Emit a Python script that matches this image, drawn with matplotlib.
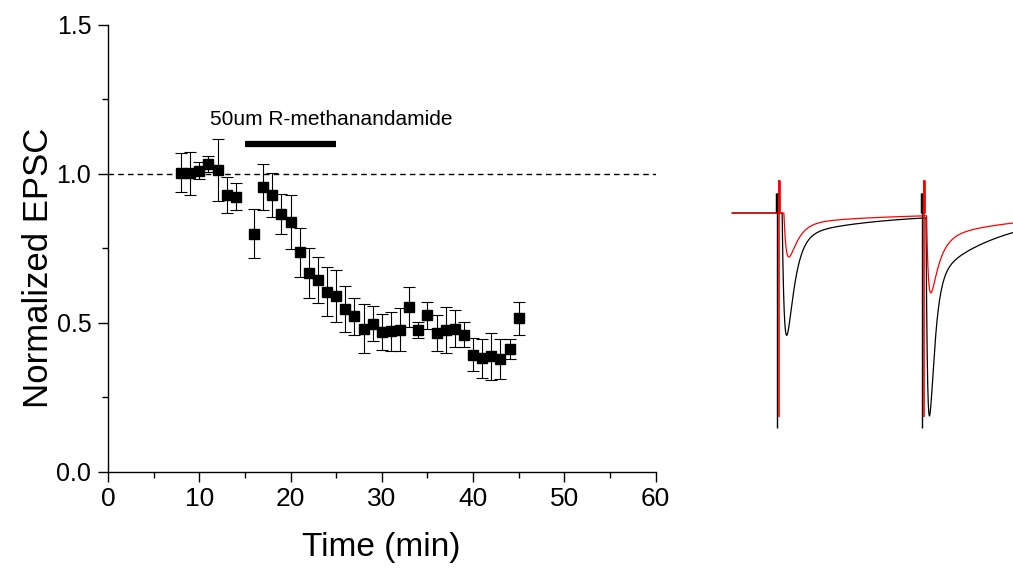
import numpy as np
import matplotlib.pyplot as plt
from matplotlib.ticker import MultipleLocator, FormatStrFormatter

plt.rcParams['font.family'] = ['Liberation Sans', 'DejaVu Sans']

# time course (min), normalized EPSC and error
times = [8, 9, 10, 11, 12, 13, 14,
         16, 17, 18, 19, 20, 21, 22, 23, 24, 25, 26, 27, 28, 29, 30,
         31, 32, 33, 34, 35, 36, 37, 38, 39, 40, 41, 42, 43, 44, 45]
epsc = [1.004, 1.002, 1.011, 1.033, 1.013, 0.929, 0.923,
        0.799, 0.955, 0.929, 0.865, 0.839, 0.736, 0.667, 0.643, 0.604, 0.590,
        0.545, 0.521, 0.480, 0.497, 0.469, 0.471, 0.476, 0.553, 0.475, 0.525,
        0.466, 0.474, 0.480, 0.459, 0.393, 0.380, 0.387, 0.379, 0.411, 0.514]
sem = [0.066, 0.072, 0.028, 0.028, 0.105, 0.060, 0.045,
       0.083, 0.077, 0.075, 0.066, 0.090, 0.082, 0.083, 0.077, 0.082, 0.088,
       0.078, 0.062, 0.082, 0.058, 0.061, 0.065, 0.072, 0.067, 0.028, 0.045,
       0.060, 0.077, 0.063, 0.042, 0.056, 0.066, 0.078, 0.067, 0.033, 0.054]

drug_label = "50um R-methanandamide"
drug_on, drug_off = 15, 25

# example traces: paired pulse responses (ms, arbitrary current units)
# each response: stim time, latency, rise, fast decay, fast amp, slow amp, slow decay
black_resp = [(10.0, 1.7, 0.9, 2.6, 103, 22, 30),
              (60.0, 1.3, 0.7, 1.7, 149, 57, 23)]
red_resp = [(10.7, 1.6, 0.9, 3.2, 35, 10, 35),
            (60.6, 0.9, 0.7, 3.0, 57, 22, 29)]
black_artifact = (-215, 20)
red_artifact = (-204, 33)


def dexp(t, tr, td):
    tc = np.clip(t, 0, None)
    y = np.where(t > 0, np.exp(-tc / td) - np.exp(-tc / tr), 0.0)
    tp = tr * td / (td - tr) * np.log(td / tr)
    return y / (np.exp(-tp / td) - np.exp(-tp / tr))


def trace(t, resp):
    y = np.zeros_like(t)
    for t0, lat, tr, td, af, aslow, ts in resp:
        tt = t - t0 - lat
        y -= af * dexp(tt, tr, td) + aslow * dexp(tt, tr, ts)
    return y


fig = plt.figure(figsize=(10.13, 5.68), dpi=100)
ax = fig.add_axes([108 / 1013, (568 - 471.5) / 568, (655.5 - 108) / 1013, (471.5 - 25) / 568])

ax.axhline(1.0, color='black', lw=1, ls=(0, (4, 3)))
ax.errorbar(times, epsc, yerr=sem, fmt='s', color='black', ms=6.5,
            ecolor='black', elinewidth=0.8, capsize=4, capthick=0.8)
ax.plot([drug_on, drug_off], [1.1, 1.1], color='black', lw=4.5, solid_capstyle='butt')
ax.text(11.2, 1.165, drug_label, fontsize=15, ha='left', va='baseline')

ax.set_xlim(0, 60)
ax.set_ylim(0, 1.5)
ax.xaxis.set_major_locator(MultipleLocator(10))
ax.xaxis.set_minor_locator(MultipleLocator(5))
ax.yaxis.set_major_locator(MultipleLocator(0.5))
ax.yaxis.set_minor_locator(MultipleLocator(0.25))
ax.yaxis.set_major_formatter(FormatStrFormatter('%.1f'))
for s in ['top', 'right']:
    ax.spines[s].set_visible(False)
for s in ['left', 'bottom']:
    ax.spines[s].set_linewidth(1)
ax.tick_params(which='major', direction='out', length=7, width=1)
ax.tick_params(which='minor', direction='out', length=4, width=1)
ax.tick_params(axis='y', pad=5, labelsize=18)
ax.tick_params(axis='x', pad=4, labelsize=19)
ax.set_xlabel('Time (min)', fontsize=24, va='baseline')
ax.set_ylabel('Normalized EPSC', fontsize=25, va='baseline')
ax.xaxis.set_label_coords(0.5, -0.189)
ax.yaxis.set_label_coords(-0.109, 0.457)

# inset with example traces
ax2 = fig.add_axes([725 / 1013, (568 - 440) / 568, 288 / 1013, 270 / 568])
t = np.arange(-5.5, 91.3, 0.02)
ax2.plot(t, trace(t, black_resp), color='black', lw=0.9)
for t0 in [r[0] for r in black_resp]:
    ax2.vlines(t0, *black_artifact, color='black', lw=1)
    ax2.vlines(t0 - 0.15, 0, black_artifact[1], color='black', lw=2.5)
ax2.plot(t, trace(t, red_resp), color='red', lw=0.9)
for t0 in [r[0] for r in red_resp]:
    ax2.vlines(t0, *red_artifact, color='red', lw=1.2)
    ax2.vlines(t0, 0, red_artifact[1], color='red', lw=2)
ax2.set_xlim(-8.0, 91.3)
ax2.set_ylim(-227, 43)
ax2.axis('off')

fig.savefig('out.png', dpi=100)
